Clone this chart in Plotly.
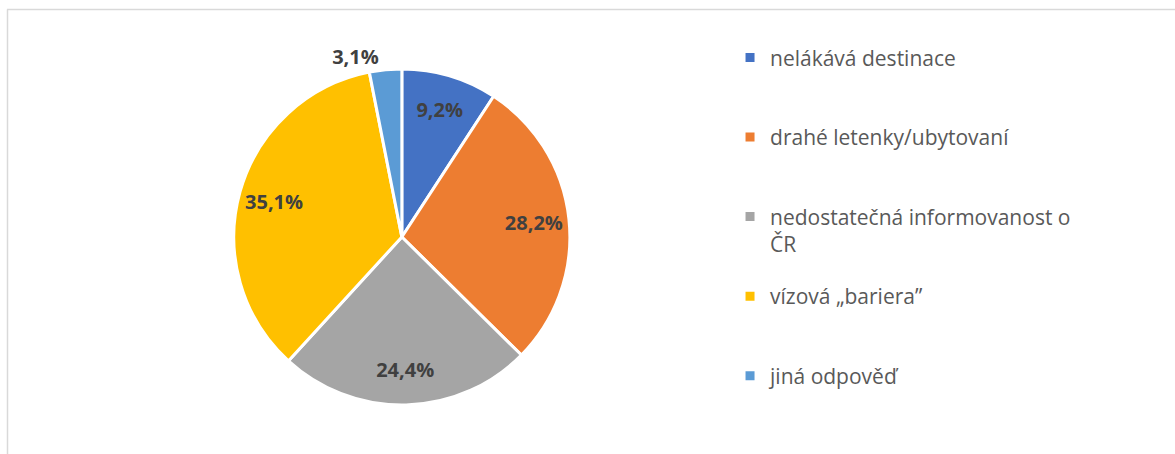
import plotly.graph_objects as go

# survey answers (share of respondents, %)
categories = ["nelákává destinace", "drahé letenky/ubytovaní",
              "nedostatečná informovanost o<br>ČR", "vízová „bariera”", "jiná odpověď"]
values = [9.2, 28.2, 24.4, 35.1, 3.1]
colors = ["#4472C4", "#ED7D31", "#A5A5A5", "#FFC000", "#5B9BD5"]
text_pos = ["inside", "inside", "inside", "inside", "outside"]

W, H = 1175, 454
pie_domain = dict(x=[0.199, 0.485], y=[0.068, 0.888])
label_font = dict(family="Open Sans", size=20, color="#404040", weight="bold")

fig = go.Figure()

# coloured slices; only the outside label is kept (transparent) so both pies get the same size
fig.add_trace(go.Pie(
    labels=categories, values=values, sort=False,
    direction="clockwise", rotation=0,
    marker=dict(colors=colors, line=dict(color="white", width=3)),
    texttemplate="%{value:.1f}%",
    textposition=["none" if p == "inside" else p for p in text_pos],
    textfont=dict(label_font, color="rgba(0,0,0,0)"),
    showlegend=False, hoverinfo="skip",
    domain=pie_domain,
))

# same pie with a hole, only to push the data labels further out like Excel does
fig.add_trace(go.Pie(
    labels=categories, values=values, sort=False,
    direction="clockwise", rotation=0, hole=0.58,
    marker=dict(colors=["rgba(0,0,0,0)"] * len(values), line=dict(width=0)),
    texttemplate="%{value:.1f}%", textposition=text_pos,
    insidetextorientation="horizontal",
    textfont=label_font, outsidetextfont=label_font,
    showlegend=False, hoverinfo="label+percent",
    domain=pie_domain,
))

# legend entries, one group each so they can be spread out like the original
for name, col in zip(categories, colors):
    label = name if "<br>" in name else name + "<br> "
    fig.add_trace(go.Scatter(
        x=[None], y=[None], mode="markers", name=label, legendgroup=name,
        marker=dict(symbol="square", size=9, color=col),
    ))

fig.update_layout(
    width=W, height=H,
    margin=dict(l=0, r=0, t=0, b=0),
    paper_bgcolor="white",
    plot_bgcolor="white",
    separators=", ",
    xaxis=dict(visible=False),
    yaxis=dict(visible=False),
    legend=dict(
        x=0.6213, y=0.918, xanchor="left", yanchor="top",
        font=dict(family="Open Sans", size=21, color="#595959"),
        valign="top",
        tracegroupgap=22,
        itemclick=False,
    ),
    shapes=[
        dict(type="line", xref="paper", yref="paper", x0=7 / W, x1=1, y0=1 - 9.5 / H, y1=1 - 9.5 / H,
             line=dict(color="#D9D9D9", width=1.5)),
        dict(type="line", xref="paper", yref="paper", x0=7.5 / W, x1=7.5 / W, y0=0, y1=1 - 9.5 / H,
             line=dict(color="#D9D9D9", width=1.5)),
    ],
)

fig.write_html("out.html", config={"displayModeBar": False},
               post_script="document.body.style.margin='0';")
